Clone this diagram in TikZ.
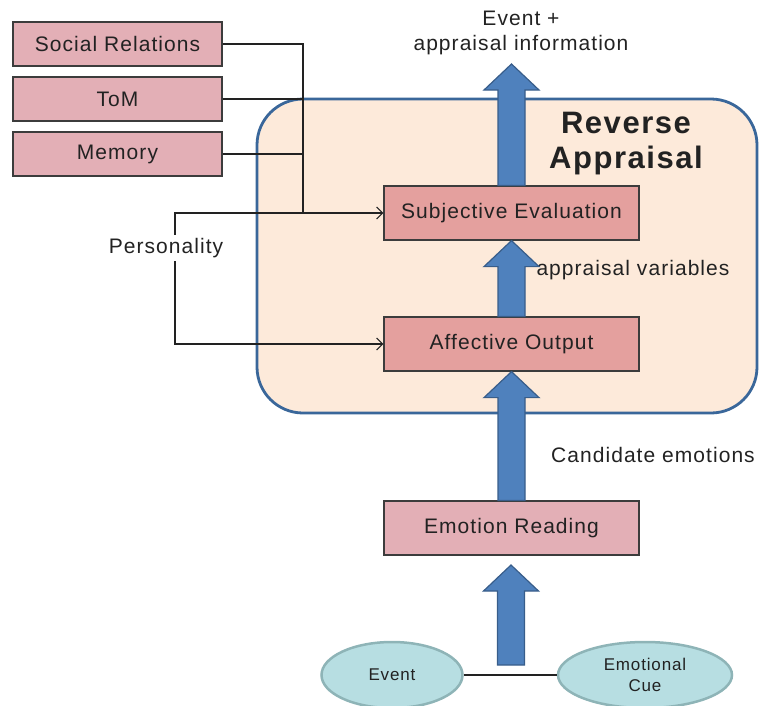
\documentclass[tikz,border=0pt]{standalone}
\usepackage{fontspec}
\setmainfont{Liberation Sans}[LetterSpace=5]
\usetikzlibrary{calc,shapes.geometric,arrows.meta}
\definecolor{txt}{HTML}{222222}
\definecolor{panelfill}{HTML}{FDEADA}
\definecolor{panelline}{HTML}{3A679A}
\definecolor{pinkbox}{HTML}{E3AFB6}
\definecolor{salmonbox}{HTML}{E4A09E}
\definecolor{boxline}{HTML}{3C3C3C}
\definecolor{arrowfill}{HTML}{4F81BD}
\definecolor{arrowline}{HTML}{385D8A}
\definecolor{cuefill}{HTML}{B7DEE2}
\definecolor{cueline}{HTML}{8EB4B7}

% broad block arrow from the tail point #1 up to the tip point #2
\newcommand{\fatarrow}[2]{%
  \path[fat] let \p1=(#1), \p2=(#2) in
    (\x1-13.5pt,\y1) -- (\x1-13.5pt,\y2-26pt) -- (\x1-27.5pt,\y2-26pt) --
    (\x1,\y2) -- (\x1+27.5pt,\y2-26pt) -- (\x1+13.5pt,\y2-26pt) --
    (\x1+13.5pt,\y1) -- cycle;}

\begin{document}
\begin{tikzpicture}[x=1pt,y=-1pt,
  every node/.style={text=txt, font=\fontsize{21}{25}\selectfont},
  srcbox/.style={draw=boxline, line width=1.2pt, fill=pinkbox,
    minimum width=209pt, minimum height=44pt, inner sep=0pt},
  stagebox/.style={draw=boxline, line width=1.2pt,
    minimum width=255pt, minimum height=54pt, inner sep=0pt},
  cue/.style={ellipse, draw=cueline, line width=2.5pt, fill=cuefill,
    inner sep=0pt, minimum height=66pt, align=center,
    font=\fontsize{17}{21}\selectfont},
  panel/.style={draw=panelline, line width=2.8pt, fill=panelfill,
    rounded corners=46pt},
  link/.style={draw=txt, line width=1.1pt},
  tip/.style={-{Straight Barb[length=6pt,width=12pt]}},
  fat/.style={fill=arrowfill, draw=arrowline, line width=1.2pt}]

\useasboundingbox (0,0) rectangle (760,705);

% appraisal panel
\draw[panel] (257,99) rectangle (757,413);

% source boxes on the left
\node[srcbox] (soc) at (117.5,44) {Social Relations};
\node[srcbox] (tom) at (117.5,99) {ToM};
\node[srcbox] (mem) at (117.5,154) {Memory};

% processing stages
\node[stagebox, fill=salmonbox] (se) at (511.5,213) {Subjective Evaluation};
\node[stagebox, fill=salmonbox] (ao) at (511.5,344) {Affective Output};
\node[stagebox, fill=pinkbox] (er) at (511.5,528) {Emotion Reading};

\node (pers) at (166,248) {Personality};

% inputs
\node[cue, minimum width=141pt] (ev) at (392,675) {Event};
\node[cue, minimum width=174pt] (cue) at (645,675) {Emotional\\Cue};

% labels
\node[align=center] (outlbl) at (521,33) {Event +\\appraisal information};
\node[align=center, font=\fontsize{31}{35}\selectfont\bfseries] (title)
  at (626,144) {Reverse\\Appraisal};
\node (avlbl) at (633,270) {appraisal variables};
\node (celbl) at (653,455) {Candidate emotions};

% thin connectors
\coordinate (join) at (303,213);
\draw[link] (soc.east) -| (join);
\draw[link] (tom.east) -- (tom.east -| join);
\draw[link] (mem.east) -- (mem.east -| join);
\draw[link, tip] ([xshift=9pt]pers.north) |- (se.west);
\draw[link, tip] ([xshift=9pt]pers.south) |- (ao.west);
\draw[link] (ev.east) -- (cue.west);

% block arrows
\coordinate (outtip) at (511,64);
\coordinate (intail) at (511,665);
\coordinate (intip) at (511,565);
\fatarrow{se.north}{outtip}
\fatarrow{ao.north}{se.south}
\fatarrow{er.north}{ao.south}
\fatarrow{intail}{intip}
\end{tikzpicture}
\end{document}
